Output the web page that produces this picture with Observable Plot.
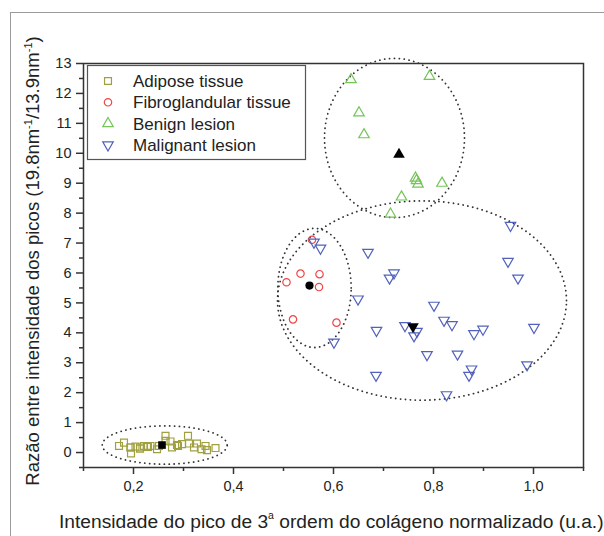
<!DOCTYPE html>
<html><head><meta charset="utf-8">
<script src="https://cdn.jsdelivr.net/npm/d3@7"></script>
<script src="https://cdn.jsdelivr.net/npm/@observablehq/plot@0.6"></script>
<style>
body{margin:0;background:#fff;overflow:hidden;font-family:"Liberation Sans",Arial,sans-serif;}
#wrap{position:relative;width:604px;height:536px;}
#border{position:absolute;left:10px;top:12px;width:700px;height:700px;border:1.5px solid #9a9a9a;}
#chart{position:absolute;left:0;top:0;}
</style></head>
<body><div id="wrap"><div id="border"></div><div id="chart"></div></div>
<script>
// ---- data ----
const adiposeX = [0.171,0.181,0.194,0.195,0.204,0.213,0.221,0.229,0.234,0.247,0.251,0.264,0.264,0.274,0.277,0.287,0.297,0.309,0.311,0.321,0.327,0.336,0.344,0.347,0.364,0.194,0.213,0.227,0.289];
const adiposeY = [0.22,0.33,0.17,-0.03,0.20,0.17,0.22,0.19,0.22,0.11,0.22,0.56,0.39,0.37,0.17,0.25,0.28,0.56,0.30,0.17,0.30,0.11,0.22,0.08,0.15,0.17,0.13,0.19,0.22];
const fibroX = [0.557,0.534,0.572,0.506,0.571,0.519,0.606];
const fibroY = [7.11,5.98,5.96,5.69,5.53,4.45,4.34];
const benignX = [0.635,0.792,0.651,0.661,0.764,0.766,0.769,0.817,0.736,0.714];
const benignY = [12.46,12.57,11.35,10.62,9.17,9.09,8.97,9.00,8.54,7.97];
const malignantX = [0.561,0.574,0.669,0.649,0.601,0.686,0.721,0.712,0.801,0.743,0.767,0.761,0.821,0.837,0.881,0.899,0.787,0.848,0.876,0.871,0.685,0.826,0.954,0.949,0.969,1.001,0.987];
const malignantY = [7.03,6.83,6.69,5.13,3.69,4.08,6.00,5.83,4.92,4.24,4.05,3.90,4.42,4.27,3.97,4.12,3.27,3.29,2.79,2.58,2.58,1.93,7.59,6.39,5.83,4.18,2.93];
// group means (black markers)
const meanX = [0.257,0.552,0.731,0.759];
const meanY = [0.25,5.58,9.96,4.21];
// dotted ellipses: centre and radii
const ellCX = [0.2624,0.562,0.722,0.777];
const ellCY = [0.25,5.50,10.51,5.08];
const ellRX = [0.125,0.0734,0.140,0.289];
const ellRY = [0.64,1.99,2.66,3.33];
const groupNames = ["Adipose tissue","Fibroglandular tissue","Benign lesion","Malignant lesion"];
const xTicks = [0.2,0.4,0.6,0.8,1.0];
const xMinor = [0.1,0.3,0.5,0.7,0.9,1.1];
const yTicks = [0,1,2,3,4,5,6,7,8,9,10,11,12,13];
const yMinor = [-0.5,0.5,1.5,2.5,3.5,4.5,5.5,6.5,7.5,8.5,9.5,10.5,11.5,12.5];

// ---- styles ----
const colors = ["#a0a040","#ee4646","#74c458","#5262bc"];
const triangleDown = {
  draw(context, size) {
    const y = -Math.sqrt(size / (Math.sqrt(3) * 3));
    context.moveTo(0, -y * 2);
    context.lineTo(-Math.sqrt(3) * y, y);
    context.lineTo(Math.sqrt(3) * y, y);
    context.closePath();
  }
};
const symbols = [d3.symbolSquare, d3.symbolCircle, d3.symbolTriangle, triangleDown];
const radii = [3.9, 3.7, 3.9, 3.9];

const zip = (xs, ys) => xs.map((x, i) => ({x, y: ys[i]}));
const groups = [zip(adiposeX, adiposeY), zip(fibroX, fibroY), zip(benignX, benignY), zip(malignantX, malignantY)];
const means = meanX.map((x, i) => ({x, y: meanY[i], g: i}));

// ellipse outlines built from centre + radii
const ellPts = [];
ellCX.forEach((cx, k) => {
  for (let i = 0; i <= 180; i++) {
    const t = (i / 180) * 2 * Math.PI;
    ellPts.push({k, x: cx + ellRX[k] * Math.cos(t), y: ellCY[k] + ellRY[k] * Math.sin(t)});
  }
});

const fmt = d => d.toFixed(1).replace(".", ",");
const plot = Plot.plot({
  width: 604, height: 536,
  marginLeft: 83, marginRight: 21, marginTop: 63, marginBottom: 69,
  style: {fontFamily: "'Liberation Sans', Arial, sans-serif", fontSize: "14.5px", color: "#222", background: "transparent"},
  x: {domain: [0.1, 1.1]},
  y: {domain: [-0.5, 13]},
  marks: [
    Plot.line(ellPts, {x: "x", y: "y", z: "k", stroke: "#333", strokeWidth: 1.8, strokeDasharray: "0.1,4.8", strokeLinecap: "round"}),
    ...groups.map((g, i) => Plot.dot(g, {x: "x", y: "y", symbol: () => symbols[i], r: radii[i], stroke: colors[i], strokeWidth: 1.2, fill: "none"})),
    ...[0,1,2,3].map(i => Plot.dot(means.filter(d => d.g === i), {x: "x", y: "y", symbol: () => symbols[i], r: radii[i] + 0.4, fill: "#000", stroke: "none"})),
    Plot.frame({stroke: "#333", strokeWidth: 1.5}),
    Plot.axisX({ticks: xTicks, tickSize: 7, tickPadding: 6, tickFormat: fmt, label: null, fontSize: 14.5, stroke: "#333", strokeWidth: 1.5}),
    Plot.axisX({ticks: xMinor, tickSize: 4, tickFormat: () => "", label: null, stroke: "#333", strokeWidth: 1.5}),
    Plot.axisY({ticks: yTicks, tickSize: 7, tickPadding: 5, tickFormat: d => String(d), label: null, fontSize: 14.5, stroke: "#333", strokeWidth: 1.5}),
    Plot.axisY({ticks: yMinor, tickSize: 4, tickFormat: () => "", label: null, stroke: "#333", strokeWidth: 1.5})
  ]
});
document.getElementById("chart").appendChild(plot);

const svg = d3.select(plot);
const FF = "'Liberation Sans', Arial, sans-serif";
// axis titles
const yt = svg.append("text")
  .attr("transform", "translate(39,261) rotate(-90)")
  .attr("text-anchor", "middle")
  .attr("font-size", 18.5).attr("fill", "#222")
  .attr("font-family", FF);
yt.append("tspan").text("Razão entre intensidade dos picos (19.8nm");
yt.append("tspan").attr("font-size", 11).attr("dy", -7).text("-1");
yt.append("tspan").attr("dy", 7).text("/13.9nm");
yt.append("tspan").attr("font-size", 11).attr("dy", -7).text("-1");
yt.append("tspan").attr("dy", 7).text(")");

const xt = svg.append("text")
  .attr("x", 59).attr("y", 528)
  .attr("text-anchor", "start")
  .attr("font-size", 19.2).attr("fill", "#222")
  .attr("font-family", FF);
xt.append("tspan").text("Intensidade do pico de 3");
xt.append("tspan").attr("font-size", 10.5).attr("dy", -9).text("a");
xt.append("tspan").attr("dy", 9).text(" ordem do colágeno normalizado (u.a.)");

// legend
const lg = svg.append("g");
lg.append("rect").attr("x", 87.5).attr("y", 65.5).attr("width", 218).attr("height", 94)
  .attr("fill", "#fff").attr("stroke", "#555").attr("stroke-width", 1.2);
groupNames.forEach((name, i) => {
  const yy = 81 + i * 21.3;
  lg.append("path").attr("transform", `translate(108,${yy})`)
    .attr("d", d3.symbol(symbols[i], Math.PI * radii[i] * radii[i])())
    .attr("fill", "none").attr("stroke", colors[i]).attr("stroke-width", 1.2);
  lg.append("text").attr("x", 133).attr("y", yy + 6).attr("text-anchor", "start")
    .attr("font-size", 17).attr("fill", "#222")
    .attr("font-family", FF).text(name);
});
</script></body></html>
